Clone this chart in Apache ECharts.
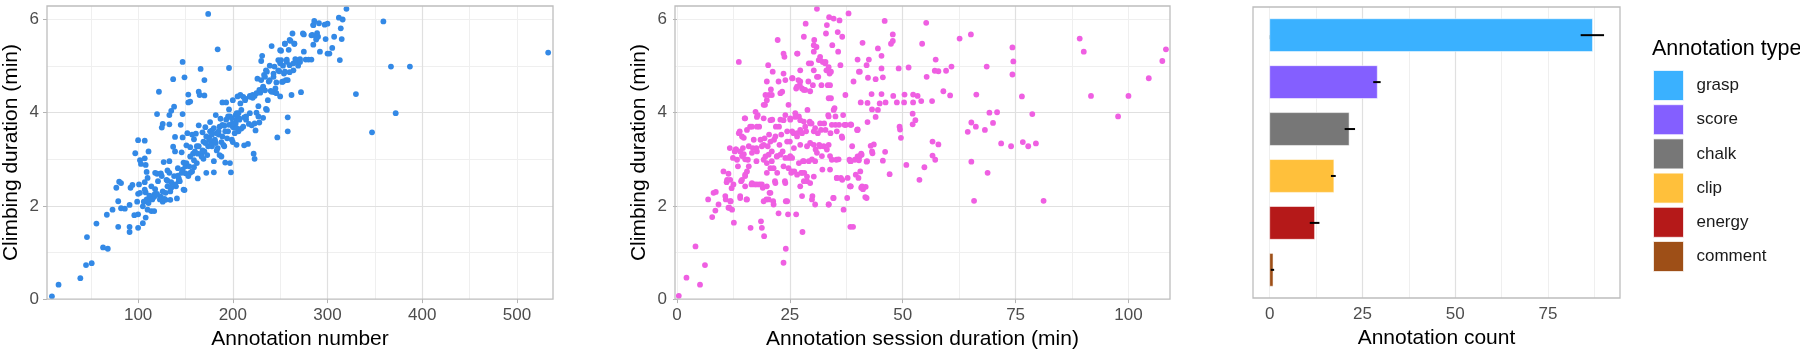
<!DOCTYPE html>
<html>
<head>
<meta charset="utf-8">
<script src="https://cdn.jsdelivr.net/npm/echarts@6/dist/echarts.min.js"></script>
<style>
html,body{margin:0;padding:0;background:#fff;}
#c{width:1800px;height:355px;}
</style>
</head>
<body>
<div id="c"></div>
<script>
// ---------- DATA ----------
// Panel 1: annotation number vs climbing duration
const annotNumber = [9,16,39,46,45,51,56,63,68,67,73,77,80,82,79,79,82,86,91,91,91,92,94,96,97,99,100,100,100,100,101,102,103,105,106,107,107,107,108,108,110,111,109,108,111,112,114,116,117,118,117,120,122,120,124,124,125,126,126,127,129,129,131,131,133,133,133,134,134,135,137,137,138,139,139,141,142,143,144,145,146,147,147,147,148,149,149,150,151,152,153,153,155,155,155,157,158,159,159,161,162,163,164,164,165,166,167,168,169,170,170,171,172,173,174,175,176,178,178,180,180,181,182,183,184,185,186,187,188,189,190,191,192,193,194,195,196,196,197,198,199,200,200,201,203,204,205,206,207,208,208,209,211,212,212,213,214,216,217,218,220,221,222,223,223,224,225,226,227,228,229,230,231,232,232,233,234,235,235,237,238,239,240,241,243,244,245,246,247,248,249,250,251,252,253,254,255,256,257,258,258,259,260,261,262,263,264,265,266,268,269,271,272,275,275,277,280,283,284,285,285,286,288,289,290,291,292,297,298,300,300,302,305,307,312,313,314,315,316,320,330,347,359,367,372,387,533,
130,133,135,138,140,143,146,148,150,153,155,157,160,162,164,167,169,170,172,174,176,177,180,181,183,184,186,188,189,191,193,195,197,199,200,202,204,206,131,135,139,142,147,151,154,159,163,168,171,175,178,182,185,189,192,196,199,203,109,112,115,118,120,123,126,128,102,105,107,110,114,118,121,125,
200,204,207,211,214,209,213,218,221,225,228,232,230,234,236,239,243,244,248,250,251,253,255,257,258,260,264,267,271,250,255,260,265,274,283,285,288,204,218,223,227,236,241,246];
const climbA = [0.06,0.31,0.45,1.33,0.73,0.77,1.62,1.11,1.08,1.81,1.92,2.39,2.52,2.49,2.10,1.55,1.95,1.94,1.55,1.44,2.02,2.39,2.45,1.80,3.13,2.09,1.82,2.26,3.41,1.53,2.46,2.98,2.90,1.63,2.09,3.40,3.02,2.51,2.29,1.75,1.92,3.17,2.73,2.88,2.06,2.17,1.89,2.18,2.24,2.36,1.89,3.97,4.45,2.69,2.70,2.20,3.68,3.76,2.09,2.94,2.28,2.13,2.54,2.76,3.95,3.75,2.96,2.13,2.31,4.04,3.27,4.72,4.13,3.48,3.17,2.16,2.81,2.59,2.53,3.74,3.15,5.09,3.97,3.47,2.93,4.76,2.34,2.70,3.30,3.56,4.39,4.22,3.26,4.24,2.71,3.53,3.12,3.43,2.83,3.55,3.28,2.59,3.73,4.45,4.38,4.94,3.12,3.58,3.01,4.37,4.70,3.69,2.71,3.09,6.12,3.47,3.80,3.28,3.62,2.72,2.96,3.40,3.95,3.19,5.36,3.53,3.09,3.87,3.37,4.22,3.31,3.72,2.93,4.22,3.45,3.92,4.07,4.96,2.92,2.72,3.76,3.37,4.27,3.68,3.95,3.31,4.35,3.60,3.87,4.20,4.38,3.66,4.34,3.30,3.90,4.30,3.85,3.33,3.76,4.36,3.73,4.32,3.12,3.01,4.36,3.62,4.00,4.73,4.14,3.79,4.43,5.11,5.22,4.54,3.89,4.81,4.48,4.91,4.08,4.27,4.67,5.01,4.47,5.43,4.77,4.44,4.52,4.65,3.47,5.13,4.89,4.35,5.33,4.66,5.01,4.84,5.48,4.70,5.14,3.60,3.90,5.35,4.87,5.54,4.38,5.70,4.91,5.48,5.15,5.11,5.01,5.15,4.44,5.68,5.31,5.14,5.14,5.14,5.67,5.46,5.88,5.97,5.57,5.71,5.63,5.92,5.31,5.89,5.58,5.27,5.91,5.27,5.39,5.63,6.04,5.13,5.81,5.58,6.00,6.23,4.40,3.58,5.96,4.99,3.99,4.99,5.29,
2.56,2.71,2.51,2.64,2.42,2.53,2.71,2.35,2.85,2.64,3.06,2.74,3.17,2.92,3.28,3.06,3.38,3.17,3.49,3.28,3.60,3.35,3.67,3.42,3.56,3.24,3.70,3.06,3.49,3.28,3.85,3.60,3.92,3.42,3.70,3.56,3.85,3.99,2.42,2.39,2.46,2.65,2.78,2.92,2.85,2.98,3.12,3.19,3.35,3.42,3.53,3.35,3.60,3.74,3.60,3.74,3.88,3.77,2.14,2.22,2.14,2.21,2.26,2.14,2.31,2.15,2.28,1.99,2.35,2.60,2.42,2.71,2.53,2.64,
3.77,3.67,3.85,3.70,3.92,4.06,4.27,4.34,4.38,4.42,4.49,4.56,4.70,4.77,4.88,4.70,4.84,4.99,4.91,5.06,5.13,4.67,4.88,5.09,4.70,5.02,5.06,5.13,5.09,5.34,5.48,5.56,5.48,5.70,5.66,5.88,5.63,3.99,3.99,3.77,3.92,4.06,4.45,4.42];

// Panel 2: annotation session duration vs climbing duration
const sessionDur = [0.4,2.1,4.1,5.1,6.2,6.9,7.8,8.1,8.6,8.5,9.2,10.3,10.8,11.0,11.4,11.6,11.8,11.9,11.7,12.1,12.4,12.6,12.8,13.1,13.3,13.5,13.7,13.9,14.0,14.2,14.4,14.6,14.8,15.0,15.1,15.4,15.5,15.7,15.9,16.2,16.3,16.5,16.8,17.0,17.2,17.4,17.6,17.7,17.9,18.2,18.3,18.6,18.8,18.8,19.0,19.3,19.4,19.5,19.6,19.8,19.9,19.9,20.1,20.2,20.4,20.4,20.5,20.7,20.8,21.0,21.1,21.2,21.3,21.5,21.7,21.9,22.1,22.3,22.5,22.5,22.7,22.9,23.1,23.3,23.4,23.6,23.6,23.8,23.9,24.0,24.1,24.1,24.4,24.6,24.7,24.8,25.0,25.1,25.3,25.5,25.6,25.8,26.0,26.2,26.4,26.4,26.6,26.7,26.9,27.0,27.2,27.3,27.5,27.7,27.8,27.9,28.1,28.2,28.4,28.5,28.6,28.8,28.9,29.1,29.2,29.4,29.5,29.7,29.8,30.0,30.1,30.3,30.4,30.6,30.7,30.9,31.0,31.2,31.3,31.4,31.5,31.7,31.9,32.0,32.2,32.3,32.5,32.6,32.8,33.0,33.1,33.2,33.4,33.5,33.6,33.7,33.8,34.0,34.1,34.3,34.4,34.6,34.7,34.9,35.1,35.3,35.4,35.6,35.7,35.9,36.0,36.2,36.3,36.5,36.6,36.8,36.9,37.1,37.3,37.4,37.7,37.8,38.0,38.2,38.3,38.4,38.6,38.8,39.1,39.4,39.6,39.9,40.2,40.4,40.5,
46.0,41.1,40.0,40.3,42.0,42.5,42.3,44.0,44.5,45.3,45.3,45.6,47.8,47.8,47.4,49.1,51.3,54.3,55.2,55.3,57.3,57.1,57.9,59.6,60.8,62.6,65.1,68.6,74.3,74.5,74.3,43.1,40.7,42.2,45.3,44.9,46.2,47.9,48.7,50.4,50.3,52.3,52.3,53.3,54.1,56.5,59.0,60.5,66.3,43.2,44.5,44.0,42.2,40.0,38.5,52.2,52.8,52.2,49.3,49.4,49.6,56.6,57.9,56.6,57.2,54.8,50.8,53.7,47.1,46.1,45.6,43.2,43.3,42.9,43.6,40.8,40.0,40.3,42.0,40.6,38.5,38.5,40.8,41.2,41.8,41.7,39.0,65.2,66.2,64.4,68.2,69.2,70.9,70.0,71.8,74.0,76.4,76.6,77.8,78.7,79.5,65.2,68.8,65.8,81.2,
89.2,90.1,91.7,97.7,100.0,104.5,107.5,108.3,
13.0,14.0,14.4,15.1,13.7,14.8,15.5,16.6,17.7,18.5,17.6,16.6,15.9,15.1,14.4,12.5,11.1,10.7,11.8,11.4,12.2,14.0,15.5,15.1,16.6,17.7,18.8,19.9,20.7,20.3,19.2,21.8,22.2,21.4,19.9,19.2,20.3,21.0,22.2,22.9,24.0,25.1,23.6,24.7,25.5,26.6,27.7,28.8,28.1,27.3,29.5,30.3,29.9,30.6,27.7,24.0,24.4,21.4,19.2,20.7,21.8,22.6,23.6,25.1,26.2,27.3,28.4,29.5,30.6,31.7,32.9,27.7,26.6,25.5,24.4,25.9,27.3,28.8,30.3,31.7,33.2,32.1,31.0,29.9,28.1,27.0,20.7,19.2,17.7,15.1,19.9,21.0,22.9,19.6,19.2,24.0,25.5,27.3,26.6,28.1,29.5,27.3,29.2,30.3,31.0,23.6,26.6,28.1,30.3,30.3,31.7,32.9,
33.6,34.1,33.9,33.6,34.7,33.6,35.1,34.3,35.4,36.6,33.6,33.9,35.8,33.9,35.4,36.6,33.6,34.7,37.3,38.4,40.0,40.9,40.5,42.1,38.4,38.4,41.0,42.0];
const climbB = [0.07,0.46,1.13,0.31,0.73,2.14,1.76,2.28,2.30,1.90,2.03,2.74,2.14,2.51,2.69,1.96,2.56,2.10,3.24,2.38,3.03,1.64,3.17,3.21,2.99,2.85,5.09,3.60,2.17,2.53,3.49,3.24,3.11,3.88,2.64,2.14,2.74,2.99,3.28,3.70,1.53,2.46,3.24,3.42,2.46,4.02,2.96,3.17,3.95,3.70,2.46,1.67,1.53,3.28,2.39,1.35,3.45,4.17,3.06,2.14,4.67,2.71,3.28,5.02,3.53,4.38,2.28,2.81,4.50,2.96,3.85,4.88,2.10,3.42,2.53,3.70,3.06,5.56,1.84,4.67,3.31,3.85,3.53,4.45,3.17,0.78,4.84,5.20,2.53,3.95,1.08,2.10,3.60,1.82,4.17,3.03,3.38,3.85,2.71,3.03,4.74,3.56,2.74,3.99,1.82,4.52,3.56,5.27,4.70,3.92,4.59,3.63,2.71,4.52,1.44,2.96,3.81,2.71,4.49,5.91,3.60,2.53,4.06,4.67,2.96,3.81,3.35,5.06,3.77,2.21,4.59,3.60,5.56,2.96,3.21,5.41,6.23,3.56,4.77,5.13,3.31,5.20,3.63,4.59,2.78,5.09,3.28,3.77,5.06,5.70,4.91,5.88,4.59,3.95,2.03,6.05,4.84,3.56,4.31,2.99,5.45,2.17,6.02,4.10,3.74,2.99,2.60,5.73,5.31,3.74,5.98,5.02,2.60,3.49,5.63,3.95,1.92,3.74,4.38,3.74,2.17,2.60,6.13,2.99,2.42,1.55,3.74,3.28,4.67,2.99,2.67,3.63,2.60,3.06,4.88,
5.97,5.50,5.14,4.88,5.02,5.14,4.75,4.72,5.38,5.22,4.95,4.76,5.68,5.54,5.48,4.95,4.97,5.48,5.93,4.77,5.14,4.90,4.89,4.90,4.99,5.59,5.68,4.99,5.40,5.10,4.82,4.40,4.22,4.21,4.40,4.20,4.22,4.36,4.22,4.39,4.22,4.39,4.22,4.36,4.25,4.25,4.46,4.37,4.39,4.07,4.06,3.91,3.80,3.64,3.75,3.98,3.84,3.75,3.70,3.64,3.46,3.38,3.32,3.08,2.99,2.83,2.88,2.56,2.68,3.16,2.97,3.17,3.13,3.29,3.32,3.12,3.06,2.98,2.95,2.74,2.96,2.42,2.39,2.36,2.41,2.19,1.55,3.79,3.70,3.59,3.63,4.00,4.01,3.78,3.34,3.28,4.35,3.37,3.28,3.97,3.34,2.95,2.71,2.11,2.11,
5.59,5.31,4.36,3.92,4.36,4.74,5.11,5.36,
3.21,3.17,3.07,3.00,3.56,3.46,3.63,3.70,3.70,3.42,3.24,3.14,2.85,2.67,2.56,2.46,2.56,2.21,2.10,1.96,1.92,2.21,2.14,2.42,2.49,2.46,2.46,2.42,2.28,2.14,2.10,2.49,2.71,2.81,2.92,2.99,3.10,3.17,3.07,3.10,3.03,3.07,2.85,2.81,2.74,2.67,2.71,2.63,2.53,2.42,2.49,2.63,2.14,2.03,2.21,2.49,2.10,2.03,3.31,3.38,3.49,3.70,3.84,3.88,3.91,3.84,3.70,3.77,3.67,3.77,3.63,3.56,3.49,3.60,3.38,3.24,3.31,3.28,3.31,3.28,3.21,3.07,3.14,3.00,2.96,2.92,3.84,3.88,3.91,3.88,4.27,4.38,4.42,4.38,4.17,4.70,4.74,4.67,4.56,4.49,4.46,4.91,5.06,4.91,4.77,5.27,5.27,5.63,5.45,5.31,5.13,5.09,
4.98,4.88,4.59,4.31,4.06,3.92,3.92,3.74,3.60,3.46,3.31,3.07,3.00,2.78,2.60,2.56,2.03,2.17,3.74,3.74,3.63,3.10,3.07,2.96,2.96,2.42,2.42,2.17];

// Panel 3: annotation counts by type
const types = ['grasp','score','chalk','clip','energy','comment'];
const counts = [87.0, 29.0, 21.4, 17.3, 12.1, 0.9];
const errLow = [83.8, 27.9, 20.2, 16.5, 10.8, 0.3];
const errHigh = [90.1, 29.9, 23.0, 17.8, 13.4, 1.2];
const typeColors = ['#3AB1FF','#845FFF','#777777','#FFC03B','#B51919','#9E4F17'];

// Tick labels
const ticksAnnotNumber = [100, 200, 300, 400, 500];
const ticksSession = [0, 25, 50, 75, 100];
const ticksCount = [0, 25, 50, 75];
const ticksClimb = [0, 2, 4, 6];

// ---------- STYLE ----------
const FONT = '"Liberation Sans", Arial, Helvetica, sans-serif';
const MAJOR = '#e0e0e0', MINOR = '#efefef', FRAME = '#bdbdbd', TICKC = '#b3b3b3', LAB = '#4d4d4d';

function zip(a, b) { return a.map((v, i) => [v, b[i]]); }

function majorX(grid, min, max, step, ticks, name, gap) {
  return {
    type: 'value', gridIndex: grid, min: min, max: max, minInterval: step, maxInterval: step,
    position: 'bottom',
    name: name, nameLocation: 'middle', nameGap: gap,
    nameTextStyle: { fontSize: 21, color: '#000', fontFamily: FONT },
    axisLine: { show: false },
    axisTick: { show: true, length: 4, lineStyle: { color: TICKC, width: 1 }, customValues: ticks },
    axisLabel: { show: true, margin: 8, fontSize: 17, color: LAB, fontFamily: FONT, customValues: ticks },
    splitLine: { show: true, showMinLine: false, showMaxLine: false, lineStyle: { color: MAJOR, width: 1.2 } },
    z: 2
  };
}
function minorX(grid, min, max, step) {
  return {
    type: 'value', gridIndex: grid, min: min, max: max, minInterval: step, maxInterval: step,
    position: 'top',
    axisLine: { show: false }, axisTick: { show: false }, axisLabel: { show: false },
    splitLine: { show: true, showMinLine: false, showMaxLine: false, lineStyle: { color: MINOR, width: 1 } },
    z: 1
  };
}
function majorY(grid, ticks, name) {
  return {
    type: 'value', gridIndex: grid, min: 0, max: 6.29, interval: 2, position: 'left',
    name: name, nameLocation: 'middle', nameGap: 25,
    nameTextStyle: { fontSize: 21, color: '#000', fontFamily: FONT },
    axisLine: { show: false },
    axisTick: { show: true, length: 4, lineStyle: { color: TICKC, width: 1 }, customValues: ticks },
    axisLabel: { show: true, margin: 8, fontSize: 17, color: LAB, fontFamily: FONT, customValues: ticks },
    splitLine: { show: true, showMinLine: false, showMaxLine: false, lineStyle: { color: MAJOR, width: 1.2 } },
    z: 2
  };
}
function minorY(grid) {
  return {
    type: 'value', gridIndex: grid, min: 0, max: 6.29, interval: 1, position: 'right',
    axisLine: { show: false }, axisTick: { show: false }, axisLabel: { show: false },
    splitLine: { show: true, showMinLine: false, showMaxLine: false, lineStyle: { color: MINOR, width: 1 } },
    z: 1
  };
}

const barSeries = types.map((t, i) => ({
  type: 'custom', name: t, xAxisIndex: 4, yAxisIndex: 4,
  itemStyle: { color: typeColors[i] },
  data: [[counts[i], i]],
  encode: { x: 0, y: 1 },
  renderItem: function (params, api) {
    const v = api.value(0), idx = api.value(1);
    const p0 = api.coord([0, idx]);
    const p1 = api.coord([v, idx]);
    const h = api.size([0, 0.7])[1];
    return {
      type: 'rect',
      shape: { x: p0[0], y: p0[1] - h / 2, width: p1[0] - p0[0], height: h },
      style: { fill: api.visual('color'), stroke: 'rgba(255,255,255,0.55)', lineWidth: 1 }
    };
  },
  z: 3
}));

const errSeries = {
  type: 'custom', name: 'err', xAxisIndex: 4, yAxisIndex: 4,
  data: types.map((t, i) => [errLow[i], errHigh[i], i]),
  encode: { x: [0, 1], y: 2 },
  renderItem: function (params, api) {
    const a = api.coord([api.value(0), api.value(2)]);
    const b = api.coord([api.value(1), api.value(2)]);
    return {
      type: 'line',
      shape: { x1: a[0], y1: a[1], x2: b[0], y2: b[1] },
      style: { stroke: '#000', lineWidth: 2 }
    };
  },
  z: 5
};

const option = {
  animation: false,
  backgroundColor: '#fff',
  textStyle: { fontFamily: FONT },
  title: {
    text: 'Annotation type', left: 1652, top: 38, padding: 0,
    textStyle: { fontSize: 21.5, fontWeight: 'normal', color: '#000', fontFamily: FONT }
  },
  legend: {
    data: types, orient: 'vertical', left: 1653, top: 70, padding: 0,
    itemWidth: 30, itemHeight: 30, itemGap: 3.2, icon: 'rect', selectedMode: false,
    itemStyle: { borderColor: 'rgba(255,255,255,0.7)', borderWidth: 1 },
    textStyle: { fontSize: 17, color: '#1a1a1a', fontFamily: FONT, padding: [0, 0, 0, 8] }
  },
  grid: [
    { left: 47, top: 6, width: 506, height: 294, show: true, borderColor: FRAME, borderWidth: 1.3, backgroundColor: 'transparent', z: 4 },
    { left: 675, top: 6, width: 495, height: 294, show: true, borderColor: FRAME, borderWidth: 1.3, backgroundColor: 'transparent', z: 4 },
    { left: 1253, top: 7, width: 367, height: 291, show: true, borderColor: FRAME, borderWidth: 1.3, backgroundColor: 'transparent', z: 4 }
  ],
  xAxis: [
    majorX(0, 3.8, 538.1, 100, ticksAnnotNumber, 'Annotation number', 29),
    minorX(0, 3.8, 538.1, 50),
    majorX(1, -0.44, 109.2, 25, ticksSession, 'Annotation session duration (min)', 29),
    minorX(1, -0.44, 109.2, 12.5),
    majorX(2, -4.5, 94.4, 25, ticksCount, 'Annotation count', 30),
    minorX(2, -4.5, 94.4, 12.5)
  ],
  yAxis: [
    majorY(0, ticksClimb, 'Climbing duration (min)'),
    minorY(0),
    majorY(1, ticksClimb, 'Climbing duration (min)'),
    minorY(1),
    { type: 'value', gridIndex: 2, min: -0.6, max: 5.6, inverse: true, show: true,
      axisLine: { show: false }, axisTick: { show: false }, axisLabel: { show: false }, splitLine: { show: false } }
  ],
  series: [
    { type: 'scatter', name: 'a', xAxisIndex: 0, yAxisIndex: 0, data: zip(annotNumber, climbA),
      symbolSize: 5.8, itemStyle: { color: '#3389E6', opacity: 1 }, z: 3 },
    { type: 'scatter', name: 'b', xAxisIndex: 2, yAxisIndex: 2, data: zip(sessionDur, climbB),
      symbolSize: 5.8, itemStyle: { color: '#EF5FE2', opacity: 1 }, z: 3 }
  ].concat(barSeries, [errSeries])
};

const chart = echarts.init(document.getElementById('c'), null, { renderer: 'canvas' });
chart.setOption(option);
</script>
</body>
</html>
